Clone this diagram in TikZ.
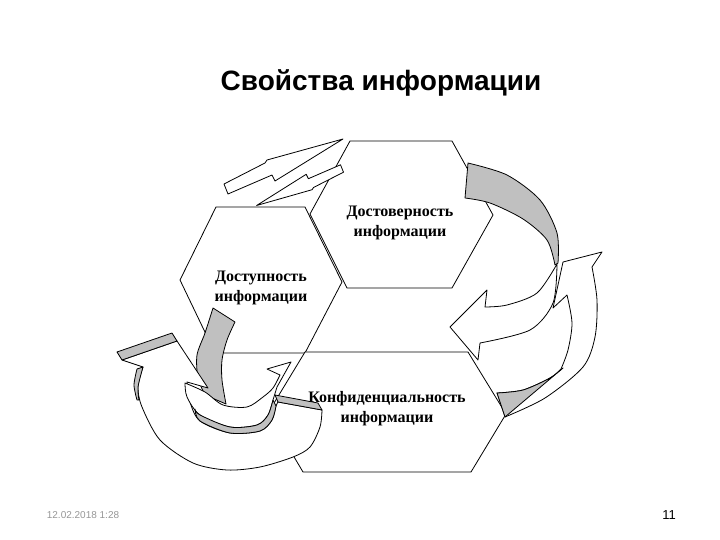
\documentclass[tikz,border=0pt]{standalone}
\usepackage{fontspec}
\setmainfont{Liberation Serif}
\newfontfamily\sansf{Liberation Sans}
\definecolor{band}{RGB}{192,192,192}
\definecolor{dategray}{RGB}{150,150,150}
\begin{document}
\begin{tikzpicture}[x=1pt,y=-1pt,
  hexa/.style={draw=black,fill=white,line width=0.8pt},
  arr/.style={draw=black,fill=white,line width=0.8pt,line join=round},
  gry/.style={draw=black,fill=band,line width=0.8pt,line join=round},
  lbl/.style={font=\fontsize{16}{20}\selectfont\bfseries,align=center,inner sep=0pt}]
\useasboundingbox (0,0) rectangle (720,540);
\node[font=\sansf\fontsize{28}{32}\selectfont\bfseries] (title) at (381,83) {Свойства информации};
% hexagons
\draw[hexa] (350,141) -- (452,141) -- (493,215) -- (452,288) -- (347,288) -- (310,214) -- cycle;
\draw[hexa] (216,207) -- (305,207) -- (342,282) -- (305,353) -- (215,353) -- (180,280) -- cycle;
\draw[hexa] (305,352) -- (468,352) -- (506,414) -- (471,472) -- (303,472) -- (268,413) -- cycle;
% lightning arrows
\draw[arr] (224,184) -- (265,163) -- (267,160) -- (343,139) -- (275,181) -- (272,175) -- (228,194) -- cycle;
\draw[arr] (343.5,172.2) -- (313.5,187.5) -- (312.1,189.7) -- (256.6,205.5) -- (306.2,174.3) -- (308.4,178.7) -- (340.5,164.8) -- cycle;
% right upward arrow R2
\draw[arr] (563,262) -- (553,308) -- (567,295)
  -- plot[smooth] coordinates {(567,295) (572,323) (568,350) (561,369)}
  -- plot[smooth] coordinates {(561,369) (550,378) (523,390) (497,393)}
  -- (505,417)
  -- plot[smooth] coordinates {(505,417) (545,398) (583,367) (595,337) (597,300) (592,267)}
  -- (602,252) -- cycle;
\draw[gry] plot[smooth] coordinates {(497,393) (523,390) (550,378) (563,368)} -- (505,417) -- cycle;
% right grey arrow R1
\draw[gry] plot[smooth] coordinates {(468,163) (507,175) (540,200) (557,233) (558,263)}
  -- plot[smooth] coordinates {(555,265) (547,240) (523,219) (490,203) (465,198)} -- cycle;
\draw[arr] plot[smooth] coordinates {(557,264) (537,293) (507,305) (485,307)}
  -- (487,290) -- (450,327) -- (478,360) -- (480,343)
  -- plot[smooth] coordinates {(480,343) (530,330) (553,303) (557,264)} -- cycle;
% left grey arrow L2 (tail band)
\draw[gry] (213,308) -- (235,322)
  -- plot[smooth] coordinates {(235,322) (227,340) (222,360) (222,380) (226,404)}
  -- plot[smooth] coordinates {(205,395) (198,378) (197,355) (205,333) (213,308)} -- cycle;
% big bottom-left arrow L1
\draw[arr] (177,341) -- (208,388) -- (187,382)
  -- plot[smooth] coordinates {(187,382) (190,402) (200,421) (230,433) (260,431) (272,420) (276,406) (278,402)}
  -- (322,410)
  -- plot[smooth] coordinates {(322,410) (320,427) (310,447) (293,457) (260,467) (227,470) (193,463) (160,440) (142,407) (138,387) (143,367)}
  -- (122,360) -- cycle;
\draw[gry] (117,352) -- (172,333) -- (177,341) -- (122,360) -- cycle;
\draw[gry] (275,395) -- (318,403) -- (322,410) -- (278,402) -- cycle;
\draw[gry] (143,367) -- (137,369) -- plot[smooth] coordinates {(137,369) (134,385) (137,400)} -- (139,400) -- plot[smooth] coordinates {(139,400) (138,387) (143,367)} -- cycle;
% L2 face
\draw[arr] plot[smooth] coordinates {(185,383) (187,397) (200,415) (230,427) (257,425) (268,415) (273,400)}
  -- (277,387) -- (291,362) -- (267,369) -- (280,375)
  -- plot[smooth] coordinates {(280,375) (273,388) (263,397) (247,407) (223,405) (205,392) (185,383)} -- cycle;
\draw[gry] plot[smooth] coordinates {(195,409) (200,415) (230,427) (257,425) (268,415) (273,400)}
  -- plot[smooth] coordinates {(276,406) (272,420) (260,431) (230,433) (200,421) (195,409)} -- cycle;
% labels
\node[lbl] (dost) at (400,223) {Достоверность\\информации};
\node[lbl] (dstp) at (261,288) {Доступность\\информации};
\node[lbl] (konf) at (387,409) {Конфиденциальность\\информации};
\node[font=\sansf\fontsize{10}{12}\selectfont,text=dategray] (date) at (83,515) {12.02.2018 1:28};
\node[font=\sansf\fontsize{13}{15}\selectfont] (page) at (669,515) {11};
\end{tikzpicture}
\end{document}
